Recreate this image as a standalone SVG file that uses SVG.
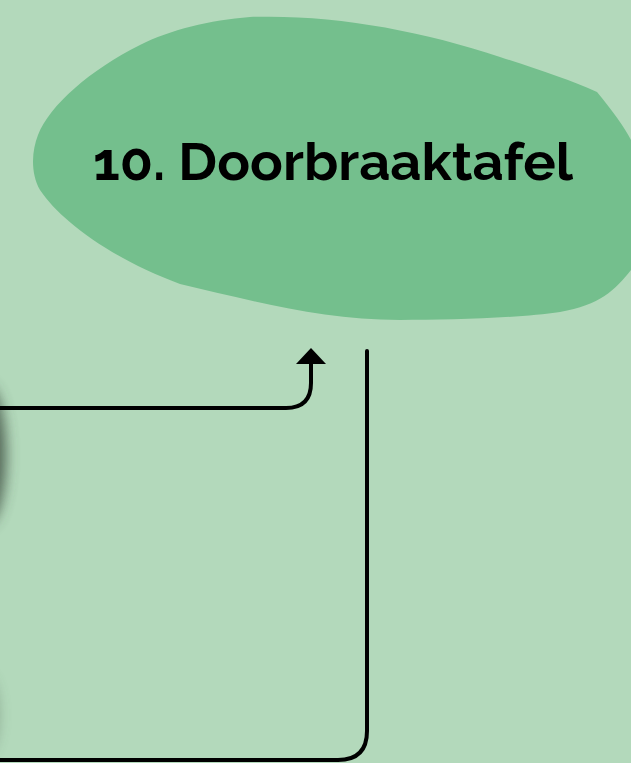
<svg xmlns="http://www.w3.org/2000/svg" width="631" height="763" viewBox="0 0 631 763">
<style>
.conn{fill:none;stroke:#000;stroke-width:4;stroke-linecap:round;stroke-linejoin:round}
.label{font-family:"Raleway","Liberation Sans","DejaVu Sans",sans-serif;font-weight:bold;font-size:52px;fill:#000}
</style>
<defs>
<filter id="blur" x="-1" y="-1" width="3" height="3"><feGaussianBlur stdDeviation="7"/></filter>
<marker id="arrow" viewBox="0 0 30 16" refX="15" refY="0" markerWidth="30" markerHeight="16" markerUnits="userSpaceOnUse" orient="auto-start-reverse">
<path d="M0,16 L15,0 L30,16 Z" fill="#000"/>
</marker>
</defs>
<rect width="631" height="763" fill="#b3d9bb"/>
<g id="shadow-offcanvas">
<ellipse cx="-14" cy="455" rx="20" ry="70" fill="#3a4a3e" opacity="0.8" filter="url(#blur)"/>
<ellipse cx="-16" cy="715" rx="14" ry="40" fill="#3a4a3e" opacity="0.35" filter="url(#blur)"/>
</g>
<g id="node-doorbraaktafel">
<path d="M250,17 C330,14 420,30 500,57 C540,70 570,80 597,92 C612,110 625,128 631,140 L631,270 C615,290 600,305 560,312 C520,318 450,320 400,320 C320,320 250,300 180,284 C110,258 60,220 40,190 C30,172 32,150 38,135 C50,105 90,70 140,45 C170,30 210,20 250,17 Z" fill="#74bf8d"/>
<text class="label" x="333" y="180" text-anchor="middle" textLength="480" lengthAdjust="spacingAndGlyphs">10. Doorbraaktafel</text>
</g>
<g id="connectors">
<path class="conn" d="M-5,408 L286,408 Q311,408 311,383 L311,362"/>
<path d="M296,364 L311,348 L326,364 Z" fill="#000"/>
<path class="conn" d="M367,351 L367,731 Q367,760 338,760 L-5,760"/>
</g>
</svg>
